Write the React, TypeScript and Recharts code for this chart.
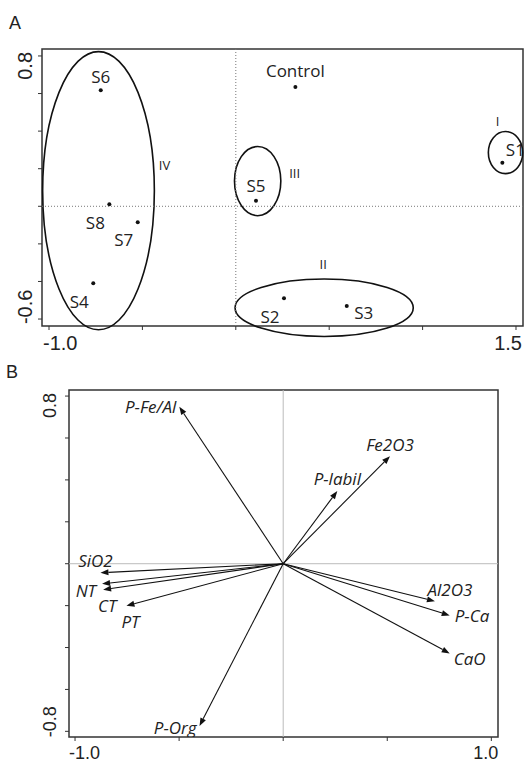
import {
  ScatterChart,
  Scatter,
  XAxis,
  YAxis,
  ReferenceArea,
  ReferenceLine,
} from "recharts";

// Panel A: sample scores
const sampleNames = ["S1", "S2", "S3", "S4", "S5", "S6", "S7", "S8", "Control"];
const sampleAxis1 = [1.427, 0.258, 0.594, -0.763, 0.108, -0.723, -0.525, -0.677, 0.319];
const sampleAxis2 = [0.232, -0.489, -0.53, -0.409, 0.03, 0.618, -0.085, 0.011, 0.635];

// Panel A: groups drawn as ellipses (centre and half-axes in axis units)
const clusterNames = ["I", "II", "III", "IV"];
const clusterCenterX = [1.444, 0.473, 0.117, -0.735];
const clusterCenterY = [0.286, -0.54, 0.134, 0.083];
const clusterRadiusX = [0.092, 0.477, 0.124, 0.299];
const clusterRadiusY = [0.112, 0.153, 0.184, 0.74];

// Panel B: variable loadings
const variableNames = ["P-Fe/Al", "Fe2O3", "P-labil", "SiO2", "NT", "CT", "PT", "Al2O3", "P-Ca", "CaO", "P-Org"];
const variableAxis1 = [-0.499, 0.513, 0.26, -0.878, -0.87, -0.865, -0.753, 0.729, 0.8, 0.8, -0.402];
const variableAxis2 = [0.749, 0.513, 0.347, -0.043, -0.096, -0.124, -0.201, -0.179, -0.247, -0.428, -0.774];

// tick values
const ticksAX = [-1.0, -0.5, 0, 0.5, 1.0, 1.5];
const ticksAY = [-0.6, -0.4, -0.2, 0, 0.2, 0.4, 0.6, 0.8];
const ticksBX = [-1.0, -0.5, 0, 0.5, 1.0];
const ticksBY = [-0.8, -0.6, -0.4, -0.2, 0, 0.2, 0.4, 0.6, 0.8];

const domainAX: [number, number] = [-1.0375, 1.5375];
const domainAY: [number, number] = [-0.637, 0.837];
const domainBX: [number, number] = [-1.029, 1.032];
const domainBY: [number, number] = [-0.827, 0.829];

// label offsets in px (layout only)
const sampleLabelOffset: Record<string, [number, number]> = {
  S1: [13, -13],
  S2: [-14, 18],
  S3: [17, 7],
  S4: [-14, 18],
  S5: [0, -15],
  S6: [0, -14],
  S7: [-14, 17],
  S8: [-14, 18],
  Control: [0, -16],
};
const clusterLabelOffset: Record<string, [number, number]> = {
  I: [-8, -32],
  II: [-1, -44],
  III: [37, -8],
  IV: [66, -26],
};
const variableLabelOffset: Record<string, [number, number, "start" | "middle" | "end"]> = {
  "P-Fe/Al": [-3, 0, "end"],
  Fe2O3: [0, -12, "middle"],
  "P-labil": [0, -12, "middle"],
  SiO2: [-5, -12, "middle"],
  NT: [-6, 7, "end"],
  CT: [4, 16, "middle"],
  PT: [4, 16, "middle"],
  Al2O3: [15, -12, "middle"],
  "P-Ca": [5, 0, "start"],
  CaO: [4, 5, "start"],
  "P-Org": [-3, 2, "end"],
};

const samples = sampleNames.map((name, i) => ({ name, x: sampleAxis1[i], y: sampleAxis2[i] }));
const variables = variableNames.map((name, i) => ({ name, x: variableAxis1[i], y: variableAxis2[i] }));

const LABEL_FONT = "'Open Sans', sans-serif";
const TICK_FONT = "'Liberation Sans', Arial, sans-serif";

const fmt = (v: number) => v.toFixed(1);

function makeXTick(first: number, last: number, fontSize: number, dy: number) {
  return (props: any) => {
    const { x, y, payload } = props;
    const v = payload.value;
    if (v === first || v === last) {
      return (
        <text
          x={v === first ? x - 6 : x + 7}
          y={y + dy}
          textAnchor={v === first ? "start" : "end"}
          fontFamily={TICK_FONT}
          fontSize={fontSize}
          fill="#222"
        >
          {fmt(v)}
        </text>
      );
    }
    return <g />;
  };
}

function makeYTick(first: number, last: number, fontSize: number, baseX: number, padLow: number, padHigh: number) {
  return (props: any) => {
    const { y, payload } = props;
    const v = payload.value;
    if (v === first || v === last) {
      const isTop = v === last;
      const ty = isTop ? y - padHigh : y + padLow;
      return (
        <text
          transform={`translate(${baseX},${ty}) rotate(-90)`}
          x={0}
          y={0}
          textAnchor={isTop ? "end" : "start"}
          fontFamily={TICK_FONT}
          fontSize={fontSize}
          fill="#222"
        >
          {fmt(v)}
        </text>
      );
    }
    return <g />;
  };
}

function SampleDot(props: any) {
  const { cx, cy, payload } = props;
  const [dx, dy] = sampleLabelOffset[payload.name];
  return (
    <g>
      <circle cx={cx} cy={cy} r={2} fill="#111" />
      <text
        x={cx + dx}
        y={cy + dy}
        textAnchor="middle"
        dominantBaseline="central"
        fontFamily={LABEL_FONT}
        fontSize={17}
        fill="#222"
      >
        {payload.name}
      </text>
    </g>
  );
}

function makeEllipse(name: string) {
  return (props: any) => {
    const { x, y, width, height } = props;
    const cx = x + width / 2;
    const cy = y + height / 2;
    const [dx, dy] = clusterLabelOffset[name];
    return (
      <g>
        <ellipse cx={cx} cy={cy} rx={Math.abs(width) / 2} ry={Math.abs(height) / 2} fill="none" stroke="#111" strokeWidth={1.6} />
        <text
          x={cx + dx}
          y={cy + dy}
          textAnchor="middle"
          dominantBaseline="central"
          fontFamily={LABEL_FONT}
          fontSize={13}
          fill="#222"
        >
          {name}
        </text>
      </g>
    );
  };
}

function Arrow(props: any) {
  const { x1, y1, x2, y2 } = props;
  const ang = Math.atan2(y2 - y1, x2 - x1);
  const len = 8;
  const half = 3;
  const bx = x2 - len * Math.cos(ang);
  const by = y2 - len * Math.sin(ang);
  const px = -Math.sin(ang) * half;
  const py = Math.cos(ang) * half;
  return (
    <g>
      <line x1={x1} y1={y1} x2={bx} y2={by} stroke="#111" strokeWidth={1.1} />
      <polygon points={`${x2},${y2} ${bx + px},${by + py} ${bx - px},${by - py}`} fill="#111" />
    </g>
  );
}

function VariableLabel(props: any) {
  const { cx, cy, payload } = props;
  const [dx, dy, anchor] = variableLabelOffset[payload.name];
  return (
    <text
      x={cx + dx}
      y={cy + dy}
      textAnchor={anchor}
      dominantBaseline="central"
      fontFamily={LABEL_FONT}
      fontStyle="italic"
      fontSize={17}
      fill="#222"
    >
      {payload.name}
    </text>
  );
}

export default function App() {
  return (
    <div style={{ position: "absolute", left: 0, top: 0, width: 525, height: 763, background: "#fff" }}>
      <div style={{ position: "absolute", left: 9, top: 13, fontFamily: TICK_FONT, fontSize: 18, color: "#222" }}>A</div>
      <div style={{ position: "absolute", left: 6, top: 362, fontFamily: TICK_FONT, fontSize: 18, color: "#222" }}>B</div>

      <div style={{ position: "absolute", left: 0, top: 0 }}>
        <ScatterChart width={525} height={370} margin={{ top: 49, right: 2, bottom: 0, left: 0 }}>
          <XAxis
            type="number"
            dataKey="x"
            domain={domainAX}
            ticks={ticksAX}
            allowDataOverflow
            height={44}
            axisLine={false}
            tickLine={{ stroke: "#333" }}
            tickSize={4}
            tickMargin={0}
            tick={makeXTick(-1.0, 1.5, 20, 20)}
          />
          <YAxis
            type="number"
            dataKey="y"
            domain={domainAY}
            ticks={ticksAY}
            allowDataOverflow
            width={42}
            axisLine={false}
            tickLine={{ stroke: "#333" }}
            tickSize={4}
            tickMargin={0}
            tick={makeYTick(-0.6, 0.8, 20, 32, 5, 4)}
          />
          <ReferenceLine x={0} stroke="#777" strokeDasharray="1 2" ifOverflow="visible" />
          <ReferenceLine y={0} stroke="#777" strokeDasharray="1 2" ifOverflow="visible" />
          <ReferenceArea
            x1={domainAX[0]}
            x2={domainAX[1]}
            y1={domainAY[0]}
            y2={domainAY[1]}
            fill="none"
            fillOpacity={0}
            stroke="#333"
            strokeWidth={1.5}
            ifOverflow="visible"
          />
          {clusterNames.map((name, i) => (
            <ReferenceArea
              key={name}
              x1={clusterCenterX[i] - clusterRadiusX[i]}
              x2={clusterCenterX[i] + clusterRadiusX[i]}
              y1={clusterCenterY[i] - clusterRadiusY[i]}
              y2={clusterCenterY[i] + clusterRadiusY[i]}
              ifOverflow="visible"
              shape={makeEllipse(name)}
            />
          ))}
          <Scatter data={samples} isAnimationActive={false} shape={SampleDot} />
        </ScatterChart>
      </div>

      <div style={{ position: "absolute", left: 0, top: 370 }}>
        <ScatterChart width={525} height={393} margin={{ top: 20, right: 27, bottom: 0, left: 0 }}>
          <XAxis
            type="number"
            dataKey="x"
            domain={domainBX}
            ticks={ticksBX}
            allowDataOverflow
            height={26}
            axisLine={false}
            tickLine={{ stroke: "#333" }}
            tickSize={4}
            tickMargin={0}
            tick={makeXTick(-1.0, 1.0, 18, 18)}
          />
          <YAxis
            type="number"
            dataKey="y"
            domain={domainBY}
            ticks={ticksBY}
            allowDataOverflow
            width={69}
            axisLine={false}
            tickLine={{ stroke: "#333" }}
            tickSize={4}
            tickMargin={0}
            tick={makeYTick(-0.8, 0.8, 18, 56, 6, 3)}
          />
          <ReferenceLine x={0} stroke="#bbb" ifOverflow="visible" />
          <ReferenceLine y={0} stroke="#bbb" ifOverflow="visible" />
          <ReferenceArea
            x1={domainBX[0]}
            x2={domainBX[1]}
            y1={domainBY[0]}
            y2={domainBY[1]}
            fill="none"
            fillOpacity={0}
            stroke="#333"
            strokeWidth={1.5}
            ifOverflow="visible"
          />
          {variables.map((v) => (
            <ReferenceLine
              key={v.name}
              segment={[
                { x: 0, y: 0 },
                { x: v.x, y: v.y },
              ]}
              ifOverflow="visible"
              shape={Arrow}
            />
          ))}
          <Scatter data={variables} isAnimationActive={false} shape={VariableLabel} />
        </ScatterChart>
      </div>
    </div>
  );
}
